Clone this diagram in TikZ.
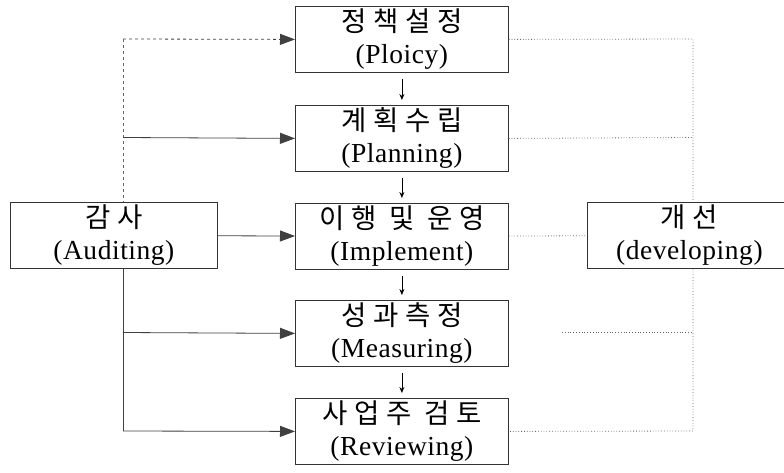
\documentclass[tikz,border=0pt]{standalone}
\usepackage{fontspec}
\setmainfont{Liberation Serif}[LetterSpace=2]
\newfontfamily\kr[LetterSpace=24]{Noto Sans CJK KR}
\usetikzlibrary{arrows.meta}

\begin{document}
\begin{tikzpicture}[x=1pt, y=-1pt]
    \tikzstyle{arrow} = [-{Triangle[length=15pt, width=11pt]}, line width=0.8pt, black!75]
    \tikzstyle{sarrow} = [-{Stealth[length=6pt, width=5pt]}, line width=0.8pt,
        shorten <=6pt, shorten >=5pt]
    \tikzstyle{dline} = [dotted, line width=0.8pt, black!60]
    \tikzstyle{rec} = [rectangle, draw=black!80, line width=0.8pt, align=center,
        minimum height=66pt, minimum width=213pt, inner sep=0pt,
        font=\fontsize{27.5}{32}\selectfont]

    \useasboundingbox (0,0) rectangle (784,472);

    \node(policy) [rec] at (295,6) [anchor=north west]
        {{\kr 정책설정}\\(Ploicy)};

    \node(planning) [rec] at (295,105) [anchor=north west]
        {{\kr 계획수립}\\(Planning)};

    \node(implement) [rec] at (295,203) [anchor=north west]
        {{\kr 이행 및 운영}\\(Implement)};

    \node(measuring) [rec] at (295,300) [anchor=north west]
        {{\kr 성과측정}\\(Measuring)};

    \node(reviewing) [rec] at (295,398) [anchor=north west]
        {{\kr 사업주 검토}\\(Reviewing)};

    \node(auditing) [rec, minimum width=207pt] at (10,202) [anchor=north west]
        {{\kr 감사}\\(Auditing)};

    \node(developing) [rec, minimum width=204pt] at (587,202) [anchor=north west]
        {{\kr 개선}\\(developing)};

    % audit feedback on the left
    \coordinate (a1) at (123,39);
    \coordinate (a2) at (123,137.5);
    \coordinate (a4) at (123,332.5);
    \coordinate (a5) at (123,431);

    \draw[arrow, dashed] (a1) -- (policy.west);
    \draw[line width=0.8pt, black!60, dashed] (a1) -- (a1 |- auditing.north);
    \draw[arrow] (a2) -- (planning.west);
    \draw[arrow] (auditing) -- (implement);
    \draw[line width=0.8pt, black!75] (auditing.south -| a5) -- (a5);
    \draw[arrow] (a4) -- (measuring.west);
    \draw[arrow] (a5) -- (reviewing.west);

    % steps
    \draw[sarrow] (policy) -- (planning);
    \draw[sarrow] (planning) -- (implement);
    \draw[sarrow] (implement) -- (measuring);
    \draw[sarrow] (measuring) -- (reviewing);

    % improvement on the right
    \coordinate (d1) at (693,39);
    \coordinate (d2) at (693,137.5);
    \coordinate (d4) at (562,332.5);
    \coordinate (d5) at (693,431);

    \draw[dline] (policy.east) -- (d1) -- (d1 |- developing.north);
    \draw[dline] (planning.east) -- (d2);
    \draw[dline] (implement) -- (developing);
    \draw[dline] (developing.south -| d5) -- (d5) -- (reviewing.east);
    \draw[dline] (d4) -- (d4 -| d5);
\end{tikzpicture}
\end{document}
